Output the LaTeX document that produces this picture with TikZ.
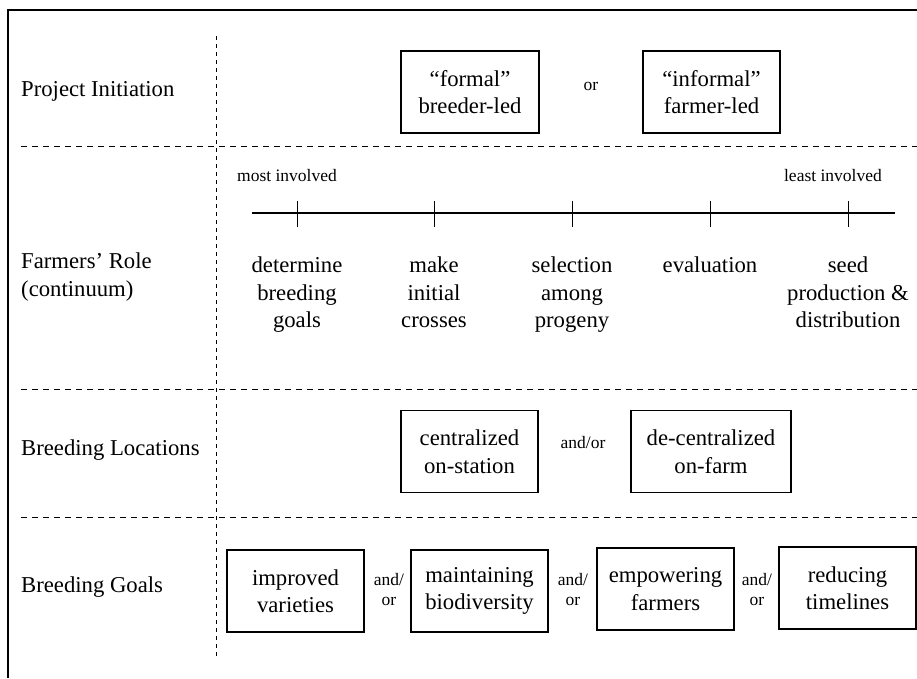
\documentclass[tikz,border=0pt]{standalone}
\usepackage{fontspec}
\setmainfont{Liberation Serif}
\newcommand{\bigtxt}{\fontsize{22.7}{27.5}\selectfont}
\newcommand{\smalltxt}{\fontsize{17.5}{19.5}\selectfont}
\tikzset{
    stagebox/.style={
        draw,
        line width=1.2pt,
        minimum height=82pt,
        inner sep=0pt,
        align=center,
        font=\bigtxt
    },
    rowlabel/.style={inner sep=0pt, align=left, font=\bigtxt},
    steptext/.style={inner sep=0pt, align=center, font=\bigtxt},
    smalltext/.style={inner sep=0pt, align=center, font=\smalltxt},
    hsep/.style={line width=1pt, dash pattern=on 6pt off 5pt},
    vsep/.style={line width=1pt, dash pattern=on 4pt off 4pt}
}

\begin{document}
\begin{tikzpicture}[x=1pt, y=-1pt]
  \useasboundingbox (0,0) rectangle (917,678);

  % Frame
  \draw[line width=1.5pt] (917,10) -- (8,10) -- (8,678);

  % Separators
  \draw[vsep] (216,36) -- (216,657);
  \draw[hsep] (21,146) -- (917,146);
  \draw[hsep] (21,389) -- (917,389);
  \draw[hsep] (21,517) -- (917,517);

  % Row labels
  \node[rowlabel, anchor=base west] (initlab) at (21,96.5) {Project Initiation};
  \node[rowlabel, anchor=north west] (rolelab) at (21,253) {Farmers’ Role\\(continuum)};
  \node[rowlabel, anchor=base west] (loclab) at (21,455.5) {Breeding Locations};
  \node[rowlabel, anchor=base west] (goallab) at (21,592.5) {Breeding Goals};

  % Project initiation
  \node[stagebox, minimum width=138pt] (formal) at (470,92) {“formal”\\breeder-led};
  \node[stagebox, minimum width=137pt] (informal) at (711.5,92) {“informal”\\farmer-led};
  \node[smalltext] (or) at (591,86) {or};

  % Farmers' role continuum
  \node[smalltext, anchor=base west] (most) at (237,181) {most involved};
  \node[smalltext, anchor=base east] (least) at (882,181) {least involved};
  \coordinate (tlstart) at (251.7,213);
  \coordinate (tlend) at (895,213);
  \draw[line width=2.4pt] (tlstart) -- (tlend);
  \foreach \x/\name in {297/t1, 434/t2, 572/t3, 710/t4, 848/t5} {
    \coordinate (\name) at (\x,213);
    \draw[line width=1pt] ([yshift=12pt]\name) -- ([yshift=-14pt]\name);
  }
  \node[steptext, anchor=north] (goals) at (297,257) {determine\\breeding\\goals};
  \node[steptext, anchor=north] (crosses) at (434,257) {make\\initial\\crosses};
  \node[steptext, anchor=north] (progeny) at (572,257) {selection\\among\\progeny};
  \node[steptext, anchor=north] (evaluation) at (710,257) {evaluation};
  \node[steptext, anchor=north] (seed) at (848,257) {seed\\production \&\\distribution};

  % Breeding locations
  \node[stagebox, minimum width=137pt] (station) at (469.5,451.5) {centralized\\on-station};
  \node[stagebox, minimum width=160pt] (farm) at (711,451.5) {de-centralized\\on-farm};
  \node[smalltext] (andor) at (583,443) {and/or};

  % Breeding goals
  \node[stagebox, minimum width=137pt] (improved) at (295.5,591) {improved\\varieties};
  \node[stagebox, minimum width=137pt] (biodiv) at (479.5,591) {maintaining\\biodiversity};
  \node[stagebox, minimum width=137pt] (empower) at (665.5,589) {empowering\\farmers};
  \node[stagebox, minimum width=137pt] (timelines) at (847.5,588) {reducing\\timelines};
  \node[smalltext] (ao1) at (389,589.5) {and/\\or};
  \node[smalltext] (ao2) at (573,589.5) {and/\\or};
  \node[smalltext] (ao3) at (757,589.5) {and/\\or};
\end{tikzpicture}
\end{document}
